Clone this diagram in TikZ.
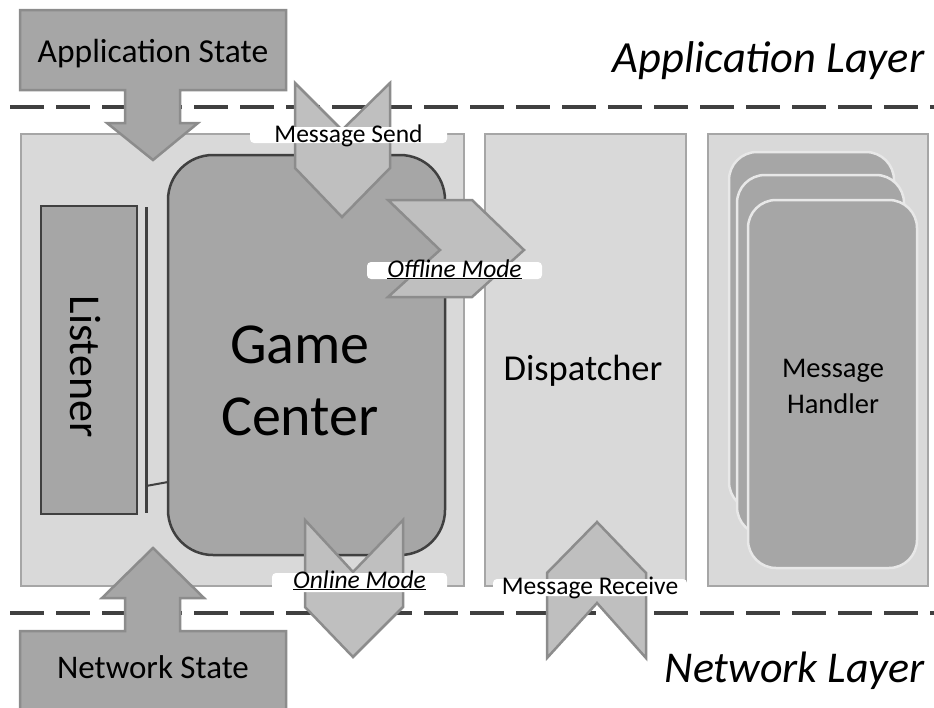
\documentclass[tikz,border=0pt]{standalone}
\usepackage{fontspec}
\setmainfont{Carlito}

\definecolor{boxgray}{HTML}{A6A6A6}
\definecolor{panelgray}{HTML}{D9D9D9}
\definecolor{chevgray}{HTML}{BFBFBF}
\definecolor{rimgray}{HTML}{8C8C8C}
\definecolor{inkgray}{HTML}{404040}
\definecolor{hlgray}{HTML}{E8E8E8}

\begin{document}
\begin{tikzpicture}[x=1pt,y=-1pt,
  panel/.style={draw=boxgray,fill=panelgray,line width=2.5pt,inner sep=0pt,minimum height=452pt},
  block/.style={draw=inkgray,fill=boxgray,line width=2.5pt,inner sep=0pt},
  handler/.style={draw=hlgray,fill=boxgray,line width=2.5pt,rounded corners=28pt,inner sep=0pt},
  callout/.style={draw=rimgray,fill=boxgray,line width=2.5pt},
  chev/.style={draw=rimgray,fill=chevgray,line width=2.5pt},
  layerline/.style={draw=inkgray,line width=4pt,dash pattern=on 34pt off 12pt},
  wire/.style={draw=inkgray,line width=2pt},
  tag/.style={fill=white,rounded corners=4pt,inner sep=0pt,text height=15pt,text depth=1pt,font=\fontsize{25.5}{30}\selectfont},
  caption/.style={font=\fontsize{44.5}{52}\selectfont\itshape,anchor=base east},
]
  \useasboundingbox (0,0) rectangle (934,707);

  % layer borders
  \coordinate (apptop-w) at (10,107);
  \coordinate (apptop-e) at (940,107);
  \coordinate (netbot-w) at (10,613);
  \coordinate (netbot-e) at (940,613);
  \draw[layerline] (apptop-w) -- (apptop-e);
  \draw[layerline] (netbot-w) -- (netbot-e);

  \node[panel,minimum width=443pt] (corepanel) at (242.5,360) {};
  \node[panel,minimum width=201pt] (dispatcher) at (585.5,360) {};
  \node[panel,minimum width=220pt] (handlerpanel) at (818,360) {};

  \draw[callout] (20,10) -- (286,10) -- (286,90) -- (180,90) -- (180,123) -- (198,123)
    -- (153,160) -- (107,123) -- (125,123) -- (125,90) -- (20,90) -- cycle;
  \draw[callout] (20,720) -- (20,631) -- (125,631) -- (125,598) -- (102,598) -- (153,548)
    -- (204,598) -- (180,598) -- (180,631) -- (286,631) -- (286,720) -- cycle;

  \node[block,rounded corners=45pt,minimum width=277pt,minimum height=400pt] (gamecenter) at (306.5,355) {};
  \node[block,minimum width=96pt,minimum height=308pt] (listener) at (89,360) {};
  \coordinate (lbartop) at (146,207);
  \coordinate (lbarbot) at (146,513);
  \coordinate (lbarjoin) at (146,486);
  \coordinate (gcjoin) at (168,482);
  \draw[wire,line width=3pt] (lbartop) -- (lbarbot);
  \draw[wire] (lbarjoin) -- (gcjoin);

  \node[handler,minimum width=165pt,minimum height=358pt] (handler3) at (811.5,331) {};
  \node[handler,minimum width=167pt,minimum height=360pt] (handler2) at (820.5,355) {};
  \node[handler,minimum width=169pt,minimum height=368pt] (handler1) at (832.5,384) {};

  % message flow
  \draw[chev] (295,83) -- (342,130) -- (390,83) -- (390,168) -- (342,217) -- (295,168) -- cycle;
  \draw[chev] (388,200) -- (472,200) -- (524,250) -- (472,297) -- (388,297) -- (440,250) -- cycle;
  \draw[chev] (305,520) -- (353,572) -- (403,520) -- (403,607) -- (353,657) -- (305,607) -- cycle;
  \draw[chev] (597,522) -- (646,573) -- (646,658) -- (597,603) -- (547,658) -- (547,573) -- cycle;

  \node[tag,minimum width=197pt,anchor=base] (sendtag) at (348.5,142) {Message Send};
  \node[tag,minimum width=175pt,anchor=base,text depth=2pt] (offtag) at (454.5,277) {\underline{\textit{Offline Mode}}};
  \node[tag,minimum width=175pt,anchor=base,text depth=4pt] (ontag) at (359.5,588) {\underline{\textit{Online Mode}}};
  \node[tag,minimum width=194pt,anchor=base,text depth=2pt] (recvtag) at (590,594) {Message Receive};

  \node[anchor=base,font=\fontsize{33.5}{40}\selectfont] (appstate) at (153,62) {Application State};
  \node[anchor=base,font=\fontsize{33}{40}\selectfont] (netstate) at (153,678) {Network State};
  \node[align=center,font=\fontsize{58}{72}\selectfont] (gctext) at (300,381) {Game\\Center};
  \node[rotate=-90,font=\fontsize{44}{50}\selectfont] (lstext) at (85,366.5) {Listener};
  \node[anchor=base,font=\fontsize{36.5}{44}\selectfont] (dptext) at (583,380) {Dispatcher};
  \node[align=center,font=\fontsize{28.5}{36}\selectfont] (mhtext) at (833,386) {Message\\Handler};

  \node[caption] (applayer) at (928,72) {Application Layer};
  \node[caption,font=\fontsize{44}{52}\selectfont\itshape] (netlayer) at (928,682) {Network Layer};
\end{tikzpicture}
\end{document}
